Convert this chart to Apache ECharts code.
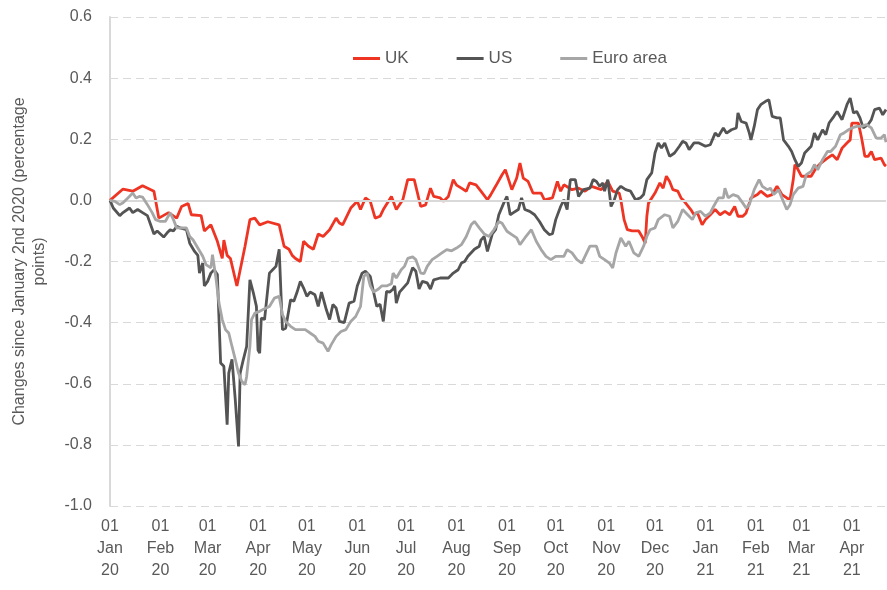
<!DOCTYPE html>
<html>
	<head>
		<meta charset="UTF-8">
		<title></title>
		<script src="https://cdn.jsdelivr.net/npm/echarts@6/dist/echarts.min.js" type="text/javascript" charset="utf-8"></script>
		<style>
			html, body { margin: 0; padding: 0; background: #fff; }
		</style>
	</head>
	<body>
		<div id="chart" style="width:887px;height:590px;"></div>
	</body>
	<script type="text/javascript">
        // readings, [date, change since 2 Jan 2020]
        var ukData = [
            ['2020-01-01',0],['2020-01-09',0.037],['2020-01-15',0.03],['2020-01-21',0.048],['2020-01-28',0.03],
            ['2020-01-31',-0.058],['2020-02-06',-0.04],['2020-02-11',-0.058],['2020-02-14',-0.02],['2020-02-18',-0.01],
            ['2020-02-20',-0.047],['2020-02-26',-0.05],['2020-02-28',-0.10],['2020-03-03',-0.08],['2020-03-07',-0.134],
            ['2020-03-10',-0.19],['2020-03-11',-0.13],['2020-03-13',-0.18],['2020-03-15',-0.19],['2020-03-19',-0.28],
            ['2020-03-20',-0.276],['2020-03-24',-0.15],['2020-03-27',-0.063],['2020-03-30',-0.058],['2020-04-02',-0.08],
            ['2020-04-07',-0.07],['2020-04-14',-0.08],['2020-04-17',-0.15],['2020-04-20',-0.16],['2020-04-22',-0.18],
            ['2020-04-24',-0.19],['2020-04-27',-0.20],['2020-04-29',-0.134],['2020-05-02',-0.15],['2020-05-05',-0.16],
            ['2020-05-08',-0.11],['2020-05-11',-0.118],['2020-05-15',-0.096],['2020-05-19',-0.058],['2020-05-21',-0.074],
            ['2020-05-23',-0.08],['2020-05-28',-0.025],['2020-06-01',-0.003],['2020-06-03',-0.03],['2020-06-06',0.008],
            ['2020-06-09',-0.003],['2020-06-12',-0.058],['2020-06-15',-0.052],['2020-06-17',-0.03],['2020-06-22',0.013],
            ['2020-06-25',-0.03],['2020-06-29',0.002],['2020-07-02',0.068],['2020-07-06',0.068],['2020-07-10',-0.02],
            ['2020-07-13',-0.015],['2020-07-16',0.04],['2020-07-18',0.013],['2020-07-22',0.008],['2020-07-24',-0.003],
            ['2020-07-27',0.013],['2020-07-30',0.068],['2020-08-01',0.05],['2020-08-04',0.04],['2020-08-07',0.03],
            ['2020-08-09',0.057],['2020-08-13',0.051],['2020-08-16',0.03],['2020-08-20',0.002],['2020-08-22',0.018],
            ['2020-08-25',0.046],['2020-08-29',0.084],['2020-08-31',0.10],['2020-09-02',0.068],['2020-09-04',0.035],
            ['2020-09-07',0.073],['2020-09-09',0.122],['2020-09-11',0.073],['2020-09-14',0.062],['2020-09-17',0.024],
            ['2020-09-22',0.024],['2020-09-24',0.002],['2020-09-29',0.008],['2020-10-02',0.062],['2020-10-04',0.03],
            ['2020-10-06',0.051],['2020-10-11',0.035],['2020-10-15',0.04],['2020-10-19',0.03],['2020-10-23',0.046],
            ['2020-10-29',0.035],['2020-11-02',0.062],['2020-11-05',0.03],['2020-11-09',0.024],['2020-11-10',0.002],
            ['2020-11-12',-0.063],['2020-11-14',-0.096],['2020-11-17',-0.10],['2020-11-21',-0.10],['2020-11-23',-0.118],
            ['2020-11-25',-0.14],['2020-11-26',-0.052],['2020-11-27',-0.009],['2020-12-01',0.024],['2020-12-04',0.057],
            ['2020-12-06',0.04],['2020-12-08',0.079],['2020-12-10',0.062],['2020-12-12',0.035],['2020-12-15',0.03],
            ['2020-12-17',0.008],['2020-12-19',-0.003],['2020-12-23',-0.03],['2020-12-25',-0.047],['2020-12-27',-0.04],
            ['2020-12-30',-0.08],['2021-01-01',-0.063],['2021-01-04',-0.047],['2021-01-07',-0.03],['2021-01-10',-0.047],
            ['2021-01-13',-0.036],['2021-01-16',-0.047],['2021-01-19',-0.02],['2021-01-21',-0.052],['2021-01-24',-0.052],
            ['2021-01-26',-0.041],['2021-01-29',0.008],['2021-02-02',0.019],['2021-02-04',0.03],['2021-02-08',0.013],
            ['2021-02-11',0.019],['2021-02-14',0.046],['2021-02-17',0.019],['2021-02-20',0.008],['2021-02-22',0.002],
            ['2021-02-24',0.068],['2021-02-25',0.117],['2021-02-27',0.10],['2021-03-01',0.079],['2021-03-04',0.079],
            ['2021-03-07',0.079],['2021-03-10',0.106],['2021-03-13',0.122],['2021-03-17',0.138],['2021-03-20',0.149],
            ['2021-03-23',0.133],['2021-03-26',0.171],['2021-03-29',0.188],['2021-03-31',0.198],['2021-04-01',0.253],
            ['2021-04-05',0.253],['2021-04-07',0.204],['2021-04-09',0.144],['2021-04-11',0.144],['2021-04-13',0.16],
            ['2021-04-15',0.133],['2021-04-19',0.138],['2021-04-21',0.117],['2021-04-22',0.112]
        ];
        var usData = [
            ['2020-01-01',0],['2020-01-03',-0.025],['2020-01-07',-0.05],['2020-01-09',-0.04],['2020-01-13',-0.025],
            ['2020-01-15',-0.04],['2020-01-18',-0.03],['2020-01-21',-0.04],['2020-01-24',-0.05],['2020-01-26',-0.08],
            ['2020-01-28',-0.11],['2020-01-30',-0.10],['2020-02-01',-0.11],['2020-02-03',-0.12],['2020-02-05',-0.107],
            ['2020-02-07',-0.096],['2020-02-09',-0.10],['2020-02-11',-0.085],['2020-02-13',-0.09],['2020-02-17',-0.096],
            ['2020-02-19',-0.14],['2020-02-22',-0.167],['2020-02-24',-0.18],['2020-02-25',-0.238],['2020-02-27',-0.205],
            ['2020-02-28',-0.28],['2020-03-01',-0.265],['2020-03-03',-0.238],['2020-03-05',-0.227],['2020-03-07',-0.243],
            ['2020-03-09',-0.532],['2020-03-11',-0.543],['2020-03-13',-0.734],['2020-03-14',-0.565],['2020-03-16',-0.52],
            ['2020-03-18',-0.652],['2020-03-20',-0.805],['2020-03-21',-0.565],['2020-03-23',-0.52],['2020-03-25',-0.478],
            ['2020-03-27',-0.26],['2020-03-29',-0.30],['2020-03-31',-0.347],['2020-04-01',-0.49],['2020-04-02',-0.50],
            ['2020-04-03',-0.385],['2020-04-05',-0.39],['2020-04-08',-0.238],['2020-04-10',-0.227],['2020-04-12',-0.216],
            ['2020-04-14',-0.16],['2020-04-16',-0.423],['2020-04-18',-0.418],['2020-04-21',-0.325],['2020-04-23',-0.33],
            ['2020-04-25',-0.30],['2020-04-27',-0.265],['2020-04-29',-0.287],['2020-05-01',-0.314],['2020-05-03',-0.30],
            ['2020-05-06',-0.309],['2020-05-08',-0.347],['2020-05-10',-0.30],['2020-05-13',-0.358],['2020-05-15',-0.39],
            ['2020-05-17',-0.341],['2020-05-19',-0.352],['2020-05-21',-0.396],['2020-05-24',-0.40],['2020-05-27',-0.336],
            ['2020-05-30',-0.33],['2020-06-01',-0.28],['2020-06-04',-0.238],['2020-06-06',-0.232],['2020-06-09',-0.249],
            ['2020-06-11',-0.30],['2020-06-13',-0.347],['2020-06-15',-0.34],['2020-06-17',-0.396],['2020-06-19',-0.298],
            ['2020-06-21',-0.30],['2020-06-23',-0.29],['2020-06-24',-0.28],['2020-06-25',-0.336],['2020-06-27',-0.30],
            ['2020-07-02',-0.27],['2020-07-05',-0.22],['2020-07-07',-0.232],['2020-07-09',-0.29],['2020-07-11',-0.265],
            ['2020-07-14',-0.27],['2020-07-16',-0.29],['2020-07-18',-0.26],['2020-07-22',-0.254],['2020-07-27',-0.254],
            ['2020-07-30',-0.238],['2020-08-02',-0.227],['2020-08-04',-0.205],['2020-08-06',-0.20],['2020-08-08',-0.183],
            ['2020-08-12',-0.16],['2020-08-15',-0.15],['2020-08-16',-0.13],['2020-08-18',-0.118],['2020-08-20',-0.167],
            ['2020-08-23',-0.11],['2020-08-25',-0.096],['2020-08-27',-0.047],['2020-08-30',-0.009],['2020-09-01',0.013],
            ['2020-09-03',-0.047],['2020-09-05',-0.04],['2020-09-08',-0.03],['2020-09-10',0.008],['2020-09-12',-0.03],
            ['2020-09-15',-0.036],['2020-09-18',-0.047],['2020-09-21',-0.069],['2020-09-24',-0.096],['2020-09-27',-0.112],
            ['2020-09-29',-0.109],['2020-10-01',-0.063],['2020-10-04',-0.02],['2020-10-06',0.002],['2020-10-08',-0.03],
            ['2020-10-09',0.024],['2020-10-10',0.068],['2020-10-13',0.068],['2020-10-15',0.013],['2020-10-18',0.035],
            ['2020-10-22',0.04],['2020-10-24',0.068],['2020-10-26',0.062],['2020-10-28',0.046],['2020-10-30',0.057],
            ['2020-10-31',0.03],['2020-11-02',0.068],['2020-11-04',-0.02],['2020-11-06',0.002],['2020-11-08',0.035],
            ['2020-11-10',0.046],['2020-11-13',0.035],['2020-11-16',0.03],['2020-11-19',0.002],['2020-11-22',0.008],
            ['2020-11-24',0.019],['2020-11-26',0.068],['2020-11-29',0.09],['2020-12-01',0.155],['2020-12-03',0.188],
            ['2020-12-05',0.171],['2020-12-07',0.188],['2020-12-10',0.144],['2020-12-13',0.155],['2020-12-16',0.177],
            ['2020-12-18',0.193],['2020-12-20',0.188],['2020-12-22',0.166],['2020-12-25',0.188],['2020-12-28',0.188],
            ['2021-01-01',0.177],['2021-01-04',0.182],['2021-01-07',0.22],['2021-01-09',0.21],['2021-01-12',0.237],
            ['2021-01-14',0.22],['2021-01-17',0.231],['2021-01-20',0.237],['2021-01-21',0.286],['2021-01-23',0.258],
            ['2021-01-26',0.253],['2021-01-28',0.22],['2021-01-29',0.198],['2021-01-31',0.242],['2021-02-02',0.297],
            ['2021-02-04',0.313],['2021-02-07',0.324],['2021-02-09',0.329],['2021-02-11',0.275],['2021-02-14',0.27],
            ['2021-02-16',0.27],['2021-02-18',0.198],['2021-02-21',0.177],['2021-02-23',0.16],['2021-02-25',0.133],
            ['2021-02-27',0.111],['2021-03-01',0.122],['2021-03-03',0.155],['2021-03-07',0.177],['2021-03-09',0.22],
            ['2021-03-11',0.198],['2021-03-14',0.231],['2021-03-16',0.215],['2021-03-18',0.253],['2021-03-21',0.275],
            ['2021-03-23',0.291],['2021-03-26',0.264],['2021-03-29',0.313],['2021-03-31',0.335],['2021-04-01',0.34],
            ['2021-04-02',0.286],['2021-04-04',0.291],['2021-04-06',0.27],['2021-04-08',0.237],['2021-04-11',0.248],
            ['2021-04-13',0.264],['2021-04-15',0.297],['2021-04-18',0.302],['2021-04-20',0.28],['2021-04-22',0.297]
        ];
        var euroData = [
            ['2020-01-01',0],['2020-01-04',-0.003],['2020-01-07',-0.014],['2020-01-09',-0.008],['2020-01-12',0.008],
            ['2020-01-15',0.024],['2020-01-17',0.008],['2020-01-19',0.013],['2020-01-21',0.011],['2020-01-24',-0.014],
            ['2020-01-27',-0.041],['2020-01-29',-0.063],['2020-02-01',-0.069],['2020-02-04',-0.069],['2020-02-07',-0.041],
            ['2020-02-09',-0.063],['2020-02-11',-0.09],['2020-02-14',-0.09],['2020-02-17',-0.09],['2020-02-19',-0.118],
            ['2020-02-21',-0.129],['2020-02-24',-0.156],['2020-02-27',-0.183],['2020-02-29',-0.21],['2020-03-03',-0.221],
            ['2020-03-04',-0.178],['2020-03-06',-0.249],['2020-03-08',-0.336],['2020-03-10',-0.39],['2020-03-12',-0.423],
            ['2020-03-14',-0.434],['2020-03-16',-0.478],['2020-03-18',-0.52],['2020-03-20',-0.565],['2020-03-22',-0.592],
            ['2020-03-24',-0.603],['2020-03-25',-0.576],['2020-03-27',-0.478],['2020-03-28',-0.39],['2020-03-30',-0.369],
            ['2020-04-02',-0.363],['2020-04-05',-0.355],['2020-04-08',-0.347],['2020-04-11',-0.32],['2020-04-14',-0.314],
            ['2020-04-16',-0.374],['2020-04-18',-0.396],['2020-04-21',-0.412],['2020-04-24',-0.423],['2020-04-27',-0.423],
            ['2020-04-30',-0.423],['2020-05-03',-0.434],['2020-05-06',-0.445],['2020-05-08',-0.461],['2020-05-11',-0.467],
            ['2020-05-14',-0.494],['2020-05-16',-0.472],['2020-05-19',-0.445],['2020-05-22',-0.429],['2020-05-25',-0.423],
            ['2020-05-28',-0.396],['2020-05-31',-0.38],['2020-06-03',-0.347],['2020-06-05',-0.249],['2020-06-07',-0.238],
            ['2020-06-09',-0.28],['2020-06-11',-0.30],['2020-06-14',-0.29],['2020-06-16',-0.28],['2020-06-19',-0.28],
            ['2020-06-22',-0.273],['2020-06-23',-0.238],['2020-06-25',-0.254],['2020-06-28',-0.227],['2020-06-30',-0.216],
            ['2020-07-02',-0.19],['2020-07-05',-0.185],['2020-07-07',-0.194],['2020-07-10',-0.238],['2020-07-12',-0.24],
            ['2020-07-14',-0.216],['2020-07-17',-0.194],['2020-07-20',-0.183],['2020-07-23',-0.172],['2020-07-26',-0.161],
            ['2020-07-29',-0.165],['2020-08-01',-0.156],['2020-08-04',-0.145],['2020-08-07',-0.118],['2020-08-10',-0.08],
            ['2020-08-12',-0.069],['2020-08-15',-0.09],['2020-08-18',-0.11],['2020-08-21',-0.118],['2020-08-24',-0.096],
            ['2020-08-27',-0.069],['2020-08-29',-0.075],['2020-09-01',-0.101],['2020-09-04',-0.112],['2020-09-07',-0.123],
            ['2020-09-09',-0.145],['2020-09-12',-0.123],['2020-09-16',-0.096],['2020-09-19',-0.134],['2020-09-22',-0.161],
            ['2020-09-25',-0.183],['2020-09-28',-0.194],['2020-10-01',-0.183],['2020-10-06',-0.183],['2020-10-08',-0.161],
            ['2020-10-11',-0.172],['2020-10-14',-0.194],['2020-10-17',-0.205],['2020-10-20',-0.172],['2020-10-22',-0.15],
            ['2020-10-26',-0.15],['2020-10-28',-0.183],['2020-10-31',-0.194],['2020-11-03',-0.205],['2020-11-05',-0.221],
            ['2020-11-07',-0.172],['2020-11-10',-0.123],['2020-11-13',-0.15],['2020-11-15',-0.134],['2020-11-18',-0.172],
            ['2020-11-21',-0.183],['2020-11-24',-0.15],['2020-11-26',-0.118],['2020-11-28',-0.096],['2020-12-01',-0.09],
            ['2020-12-03',-0.063],['2020-12-07',-0.047],['2020-12-10',-0.052],['2020-12-12',-0.09],['2020-12-15',-0.069],
            ['2020-12-18',-0.03],['2020-12-22',-0.052],['2020-12-24',-0.063],['2020-12-26',-0.041],['2020-12-29',-0.036],
            ['2021-01-01',-0.052],['2021-01-04',-0.041],['2021-01-06',-0.02],['2021-01-09',0.008],['2021-01-12',0.008],
            ['2021-01-13',0.04],['2021-01-15',0.008],['2021-01-18',0.019],['2021-01-21',0.013],['2021-01-24',-0.009],
            ['2021-01-26',-0.025],['2021-01-28',-0.014],['2021-01-31',0.035],['2021-02-03',0.068],['2021-02-05',0.046],
            ['2021-02-08',0.035],['2021-02-10',0.04],['2021-02-12',0.019],['2021-02-15',0.035],['2021-02-17',0.008],
            ['2021-02-20',-0.03],['2021-02-22',-0.014],['2021-02-24',0.019],['2021-02-27',0.04],['2021-03-02',0.046],
            ['2021-03-04',0.084],['2021-03-07',0.095],['2021-03-09',0.117],['2021-03-11',0.10],['2021-03-14',0.133],
            ['2021-03-17',0.16],['2021-03-19',0.16],['2021-03-22',0.177],['2021-03-25',0.215],['2021-03-27',0.22],
            ['2021-03-30',0.231],['2021-04-01',0.237],['2021-04-04',0.242],['2021-04-07',0.242],['2021-04-10',0.248],
            ['2021-04-13',0.237],['2021-04-16',0.204],['2021-04-19',0.204],['2021-04-21',0.215],['2021-04-22',0.19]
        ];
        var seriesNames = ['UK', 'US', 'Euro area'];
        var monthNames = ['Jan','Feb','Mar','Apr','May','Jun','Jul','Aug','Sep','Oct','Nov','Dec'];

        var font = 'Arial, "Liberation Sans", sans-serif';
        var txt = '#595959';
        var DAY = 24 * 3600 * 1000;

        var chart = echarts.init(document.getElementById('chart'));

        chart.setOption({
            animation: false,
            textStyle: { fontFamily: font },
            grid: { left: 110, right: 1, top: 17, bottom: 84 },
            legend: {
                data: seriesNames,
                left: 348,
                top: 45,
                itemGap: 48,
                itemWidth: 27,
                itemHeight: 3,
                icon: 'rect',
                textStyle: { color: txt, fontSize: 17, fontFamily: font }
            },
            xAxis: {
                type: 'time',
                min: '2020-01-01',
                max: '2021-04-22',
                minInterval: 28 * DAY,
                maxInterval: 31 * DAY,
                axisLine: { show: false },
                axisTick: { show: false },
                splitLine: { show: false },
                axisLabel: {
                    color: txt,
                    fontSize: 16,
                    lineHeight: 22,
                    margin: 10,
                    fontFamily: font,
                    hideOverlap: false,
                    formatter: function (val) {
                        var d = new Date(val);
                        if (d.getDate() !== 1) return '';
                        return '01\n' + monthNames[d.getMonth()] + '\n' + String(d.getFullYear()).slice(2);
                    }
                }
            },
            yAxis: {
                type: 'value',
                min: -1,
                max: 0.6,
                interval: 0.2,
                name: 'Changes since January 2nd 2020 (percentage\npoints)',
                nameLocation: 'middle',
                nameGap: 60,
                nameTextStyle: { color: txt, fontSize: 16, lineHeight: 20, fontFamily: font },
                axisLine: { show: true, lineStyle: { color: '#d9d9d9', width: 2 } },
                axisTick: { show: false },
                splitLine: { lineStyle: { color: '#d9d9d9', type: [8, 5], width: 1 } },
                axisLabel: {
                    color: txt,
                    fontSize: 16,
                    margin: 18,
                    fontFamily: font,
                    formatter: function (v) { return v.toFixed(1); }
                }
            },
            series: [
                {
                    name: 'UK', type: 'line', data: ukData, showSymbol: false, z: 3,
                    color: '#ee3524', lineStyle: { width: 2.8 },
                    markLine: {
                        silent: true, symbol: 'none', label: { show: false },
                        lineStyle: { color: '#d9d9d9', type: 'solid', width: 2 },
                        data: [{ yAxis: 0 }]
                    }
                },
                { name: 'US', type: 'line', data: usData, showSymbol: false, z: 4, color: '#545454', lineStyle: { width: 2.8 } },
                { name: 'Euro area', type: 'line', data: euroData, showSymbol: false, z: 5, color: '#a6a6a6', lineStyle: { width: 2.8 } }
            ]
        });
	</script>
</html>
